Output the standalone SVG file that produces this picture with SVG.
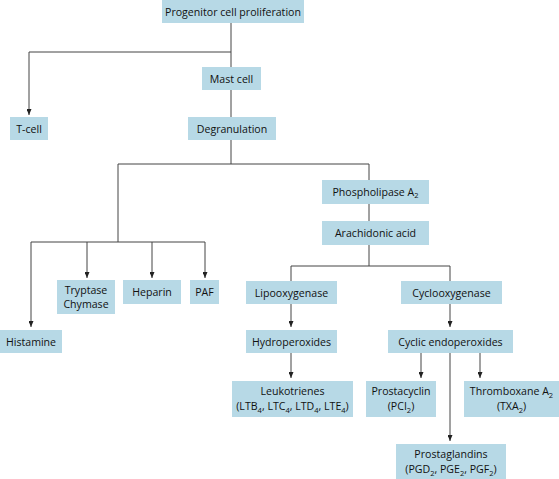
<svg xmlns="http://www.w3.org/2000/svg" width="559" height="479" viewBox="0 0 559 479">
<style>
.box{fill:#b7d9e6;}
text{font-family:"Open Sans","Liberation Sans",sans-serif;font-size:10.6px;fill:#111;text-anchor:middle;}
.sub{font-size:7.5px;}
.ln{fill:none;stroke:#444;stroke-width:1;}
.ar{fill:none;stroke:#444;stroke-width:1;marker-end:url(#ah);}
</style>
<defs>
<marker id="ah" viewBox="0 0 6 5" refX="6" refY="2.5" markerWidth="6" markerHeight="5" markerUnits="userSpaceOnUse" orient="auto">
<path d="M0,0 L6,2.5 L0,5 Z" fill="#222"/>
</marker>
</defs>
<g id="connectors">
<path class="ln" d="M231,23 V67"/>
<path class="ar" d="M231,52 H29 V115"/>
<path class="ln" d="M231,90 V117"/>
<path class="ln" d="M231,140 V164 H369 V180"/>
<path class="ln" d="M231,164 H118 V242"/>
<path class="ar" d="M118,242 H31 V327"/>
<path class="ar" d="M87,242 V278"/>
<path class="ar" d="M152,242 V278"/>
<path class="ar" d="M118,242 H205 V278"/>
<path class="ln" d="M369,204 V221"/>
<path class="ln" d="M369,245 V266 H291 V281"/>
<path class="ln" d="M369,266 H450 V281"/>
<path class="ar" d="M291,304 V327"/>
<path class="ar" d="M450,304 V327"/>
<path class="ar" d="M291,353 V378"/>
<path class="ar" d="M421,353 V378"/>
<path class="ar" d="M480,353 V378"/>
<path class="ar" d="M450,353 V441"/>
</g>
<g id="progenitor"><rect class="box" x="162" y="0" width="142" height="23"/><text x="233" y="15.5">Progenitor cell proliferation</text></g>
<g id="tcell"><rect class="box" x="10" y="117" width="38" height="23"/><text x="29" y="132.5">T-cell</text></g>
<g id="mastcell"><rect class="box" x="202" y="67" width="59" height="23"/><text x="231.5" y="82.5">Mast cell</text></g>
<g id="degranulation"><rect class="box" x="188" y="117" width="88" height="23"/><text x="232" y="132.5">Degranulation</text></g>
<g id="histamine"><rect class="box" x="0" y="330" width="62" height="23"/><text x="31" y="345.5">Histamine</text></g>
<g id="tryptase"><rect class="box" x="57" y="280" width="58" height="34"/><text x="86" y="293.5">Tryptase</text><text x="86" y="308">Chymase</text></g>
<g id="heparin"><rect class="box" x="123" y="280" width="58" height="24"/><text x="152" y="295.5">Heparin</text></g>
<g id="paf"><rect class="box" x="190" y="280" width="29" height="24"/><text x="204.5" y="295.5">PAF</text></g>
<g id="phospholipase"><rect class="box" x="322" y="180" width="107" height="24"/><text x="375.5" y="195.5">Phospholipase A<tspan class="sub" dy="2.5">2</tspan></text></g>
<g id="arachidonic"><rect class="box" x="322" y="221" width="107" height="24"/><text x="375.5" y="236.5">Arachidonic acid</text></g>
<g id="lipooxygenase"><rect class="box" x="246" y="281" width="91" height="23"/><text x="291.5" y="296.5">Lipooxygenase</text></g>
<g id="cyclooxygenase"><rect class="box" x="401" y="281" width="101" height="23"/><text x="451.5" y="296.5">Cyclooxygenase</text></g>
<g id="hydroperoxides"><rect class="box" x="246" y="330" width="91" height="23"/><text x="291.5" y="345.5">Hydroperoxides</text></g>
<g id="cyclic"><rect class="box" x="388" y="330" width="125" height="23"/><text x="450.5" y="345.5">Cyclic endoperoxides</text></g>
<g id="leukotrienes"><rect class="box" x="232" y="381" width="121" height="36"/><text x="292.5" y="395">Leukotrienes</text><text x="292.5" y="410">(LTB<tspan class="sub" dy="2.5">4</tspan><tspan dy="-2.5">, LTC</tspan><tspan class="sub" dy="2.5">4</tspan><tspan dy="-2.5">, LTD</tspan><tspan class="sub" dy="2.5">4</tspan><tspan dy="-2.5">, LTE</tspan><tspan class="sub" dy="2.5">4</tspan><tspan dy="-2.5">)</tspan></text></g>
<g id="prostacyclin"><rect class="box" x="366" y="381" width="70" height="36"/><text x="401" y="395">Prostacyclin</text><text x="401" y="410">(PCI<tspan class="sub" dy="2.5">2</tspan><tspan dy="-2.5">)</tspan></text></g>
<g id="thromboxane"><rect class="box" x="464" y="381" width="95" height="36"/><text x="511.5" y="395">Thromboxane A<tspan class="sub" dy="2.5">2</tspan></text><text x="511.5" y="410">(TXA<tspan class="sub" dy="2.5">2</tspan><tspan dy="-2.5">)</tspan></text></g>
<g id="prostaglandins"><rect class="box" x="396" y="444" width="110" height="35"/><text x="451" y="458">Prostaglandins</text><text x="451" y="473">(PGD<tspan class="sub" dy="2.5">2</tspan><tspan dy="-2.5">, PGE</tspan><tspan class="sub" dy="2.5">2</tspan><tspan dy="-2.5">, PGF</tspan><tspan class="sub" dy="2.5">2</tspan><tspan dy="-2.5">)</tspan></text></g>
</svg>
